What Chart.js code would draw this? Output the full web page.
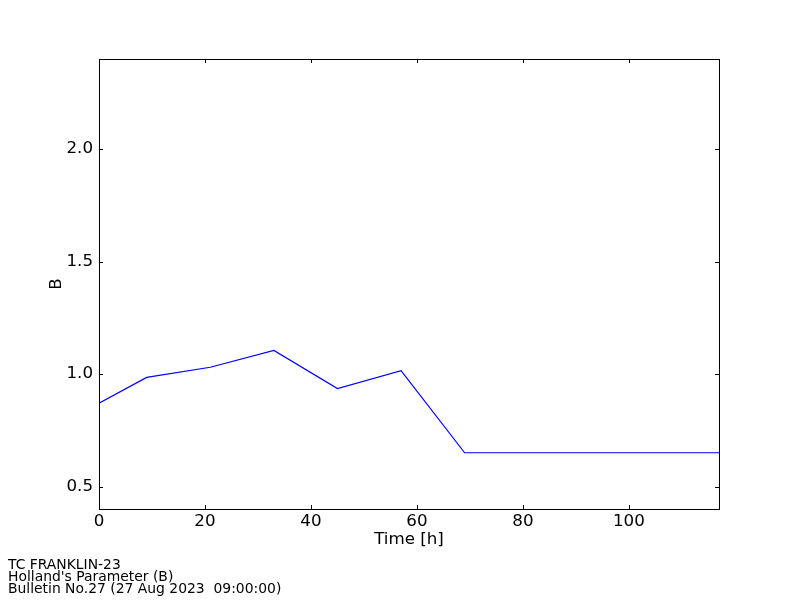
<!DOCTYPE html>
<html>
<head>
<meta charset="utf-8">
<script src="https://cdn.jsdelivr.net/npm/chart.js@4"></script>
<style>
  body { margin: 0; background: #fff; }
  #wrap { position: relative; width: 800px; height: 600px; }
  #footer {
    position: absolute; left: 8px; top: 558px;
    font-family: "DejaVu Sans", sans-serif; font-size: 13.9px; line-height: 12px;
    color: #000; white-space: pre;
  }
</style>
</head>
<body>
<div id="wrap">
  <canvas id="bChart" width="800" height="600"></canvas>
  <div id="footer">TC FRANKLIN-23
Holland's Parameter (B)
Bulletin No.27 (27 Aug 2023  09:00:00)</div>
</div>
<script>
const hours = [0, 9, 21, 33, 45, 57, 69, 81, 93, 105, 117];
const bValues = [0.87, 0.985, 1.03, 1.105, 0.935, 1.015, 0.65, 0.65, 0.65, 0.65, 0.65];
const xTicks = [0, 20, 40, 60, 80, 100];
const yTicks = [0.5, 1.0, 1.5, 2.0];

const font = { family: '"DejaVu Sans", sans-serif', size: 16.7 };

// matplotlib style frame with inward ticks on all four sides
const framePlugin = {
    id: 'frame',
    afterDraw(chart) {
        const { ctx, chartArea: a, scales } = chart;
        ctx.save();
        ctx.strokeStyle = '#000';
        ctx.lineWidth = 1;
        ctx.strokeRect(a.left + 0.5, a.top + 0.5, a.right - a.left, a.bottom - a.top);
        ctx.beginPath();
        xTicks.forEach(v => {
            const x = Math.round(scales.x.getPixelForValue(v)) + 0.5;
            ctx.moveTo(x, a.bottom); ctx.lineTo(x, a.bottom - 4);
            ctx.moveTo(x, a.top); ctx.lineTo(x, a.top + 4);
        });
        yTicks.forEach(v => {
            const y = Math.round(scales.y.getPixelForValue(v)) + 0.5;
            ctx.moveTo(a.left, y); ctx.lineTo(a.left + 4, y);
            ctx.moveTo(a.right, y); ctx.lineTo(a.right - 4, y);
        });
        ctx.stroke();
        ctx.restore();
    }
};

new Chart(document.getElementById('bChart'), {
    type: 'line',
    data: {
        datasets: [{
            data: hours.map((h, i) => ({ x: h, y: bValues[i] })),
            borderColor: '#0000ff',
            borderWidth: 1.2,
            pointRadius: 0,
            tension: 0,
            fill: false
        }]
    },
    options: {
        responsive: false,
        animation: false,
        layout: { padding: { top: 59, right: 81, left: 0, bottom: 0 } },
        plugins: { legend: { display: false }, tooltip: { enabled: false } },
        scales: {
            x: {
                type: 'linear',
                min: 0,
                max: 117,
                afterBuildTicks: axis => { axis.ticks = xTicks.map(v => ({ value: v })); },
                afterFit: axis => { axis.height = 91; },
                grid: { display: false, drawTicks: false },
                border: { display: false },
                ticks: { color: '#000', font: font, padding: 3, maxRotation: 0 },
                title: { display: true, text: 'Time [h]', color: '#000', font: font, padding: { top: 0, bottom: 50 } }
            },
            y: {
                type: 'linear',
                min: 0.4,
                max: 2.4,
                afterBuildTicks: axis => { axis.ticks = yTicks.map(v => ({ value: v })); },
                afterFit: axis => { axis.width = 99; },
                grid: { display: false, drawTicks: false },
                border: { display: false },
                ticks: { color: '#000', font: font, padding: 6, callback: v => v.toFixed(1) },
                title: { display: true, text: 'B', color: '#000', font: font, padding: { top: 47, bottom: 0 } }
            }
        }
    },
    plugins: [framePlugin]
});
</script>
</body>
</html>
